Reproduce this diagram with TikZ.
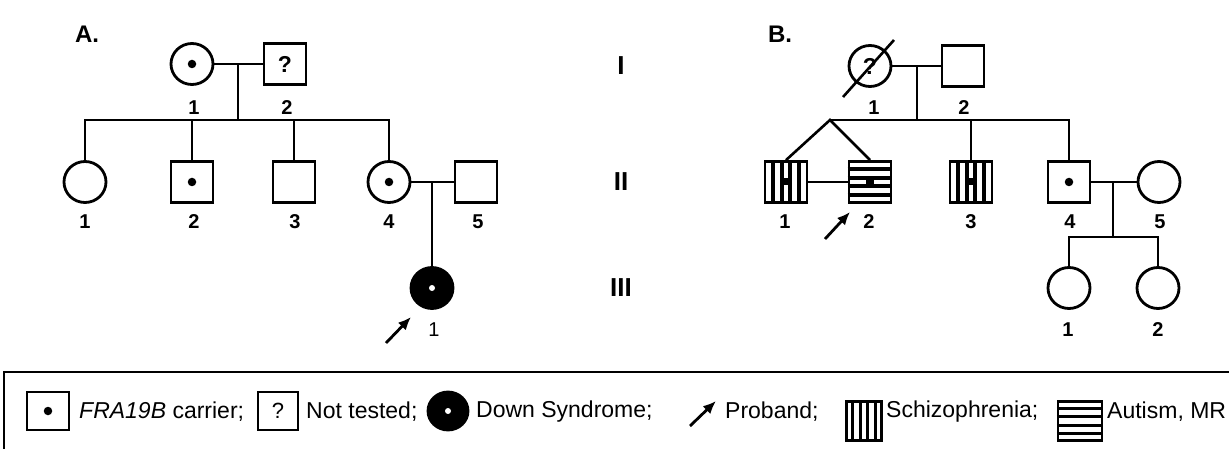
\documentclass[tikz,border=0pt]{standalone}
\usepackage{fontspec}
\setmainfont{Liberation Sans}
\usetikzlibrary{shapes.geometric,arrows.meta,calc}
\begin{document}
\begin{tikzpicture}[x=1pt,y=-1pt,
  fem/.style={ellipse,draw,line width=2.8pt,minimum width=42pt,minimum height=41pt,inner sep=0pt},
  mal/.style={rectangle,draw,line width=2.8pt,minimum width=42pt,minimum height=41pt,inner sep=0pt},
  con/.style={line width=2.6pt},
  num/.style={font=\fontsize{20}{20}\selectfont\bfseries,inner sep=0pt},
  gen/.style={font=\fontsize{26}{26}\selectfont\bfseries,inner sep=0pt},
  ttl/.style={font=\fontsize{24}{24}\selectfont\bfseries,inner sep=0pt},
  qm/.style={font=\fontsize{23}{23}\selectfont\bfseries},
  dotc/.style={circle,fill=black,minimum size=8.5pt,inner sep=0pt},
  spot/.style={circle,fill=white,minimum size=6pt,inner sep=0pt},
  proband/.style={line width=2.8pt,-{Latex[length=13pt,width=11pt]}},
  lgtext/.style={font=\fontsize{23}{23}\selectfont,anchor=west,inner sep=0pt},
  stripe/.style={line width=4pt},
]
\useasboundingbox (0,0) rectangle (1229,449);

% ---------- Panel A ----------
\node[ttl] (tA) at (87,34) {A.};
\node[fem] (a11) at (192,64) {};
\node[dotc] (a11d) at (a11) {};
\node[mal,qm] (a12) at (285,64) {?};
\node[num] (la11) at (194,108) {1};
\node[num] (la12) at (287,108) {2};

\node[fem] (a21) at (85,182) {};
\node[mal] (a22) at (192,182) {};
\node[dotc] (a22d) at (a22) {};
\node[mal] (a23) at (294,182) {};
\node[fem] (a24) at (389,182) {};
\node[dotc] (a24d) at (a24) {};
\node[mal] (a25) at (476,182) {};
\node[num] (la21) at (85,222) {1};
\node[num] (la22) at (194,222) {2};
\node[num] (la23) at (295,222) {3};
\node[num] (la24) at (389,222) {4};
\node[num] (la25) at (478,222) {5};

\node[fem,fill=black] (a31) at (432,288) {};
\node[spot] (a31d) at (a31) {};
\node[num,font=\fontsize{20}{20}\selectfont] (la31) at (434,330) {1};
\coordinate (aP1) at (386,343);
\coordinate (aP2) at (411,317);
\draw[proband] (aP1) -- (aP2);

\draw[con] (a11) -- (a12);
\coordinate (aM1) at (238,64);
\coordinate (aS1) at (238,120);
\draw[con] (aM1) -- (aS1);
\draw[con] (a21.north) |- (aS1) -| (a24.north);
\draw[con] (a22.north) -- (a22.north |- aS1);
\draw[con] (a23.north) -- (a23.north |- aS1);
\draw[con] (a24) -- (a25);
\coordinate (aM2) at (432,182);
\draw[con] (aM2) -- (a31.north);

% ---------- generations ----------
\node[gen] (g1) at (621,66) {I};
\node[gen] (g2) at (621,182) {II};
\node[gen] (g3) at (621,288) {III};

% ---------- Panel B ----------
\node[ttl] (tB) at (780,34) {B.};
\node[fem,qm] (b11) at (870,66) {?};
\draw[con] ($(b11)+(-27,31)$) -- ($(b11)+(24,-26)$);
\node[mal] (b12) at (963,66) {};
\node[num] (lb11) at (874,108) {1};
\node[num] (lb12) at (964,108) {2};

\node[mal] (b21) at (786,182) {};
\node[mal] (b22) at (870,182) {};
\node[mal] (b23) at (971,182) {};
\node[mal] (b24) at (1069,182) {};
\node[dotc] (b24d) at (b24) {};
\node[fem] (b25) at (1159,182) {};
\foreach \f in {0.2,0.4,0.6,0.8} {
  \draw[stripe] ($(b21.north west)!\f!(b21.north east)$) -- ($(b21.south west)!\f!(b21.south east)$);
  \draw[stripe] ($(b23.north west)!\f!(b23.north east)$) -- ($(b23.south west)!\f!(b23.south east)$);
  \draw[stripe] ($(b22.north west)!\f!(b22.south west)$) -- ($(b22.north east)!\f!(b22.south east)$);
}
\fill ($(b21)+(-5,-3.5)$) rectangle ($(b21)+(5,3.5)$);
\fill ($(b23)+(-5,-3.5)$) rectangle ($(b23)+(5,3.5)$);
\fill ($(b22)+(-4,-5)$) rectangle ($(b22)+(4,5)$);

\node[num] (lb21) at (785,222) {1};
\node[num] (lb22) at (869,222) {2};
\node[num] (lb23) at (971,222) {3};
\node[num] (lb24) at (1070,222) {4};
\node[num] (lb25) at (1160,222) {5};
\coordinate (bP1) at (825,239);
\coordinate (bP2) at (850,212);
\draw[proband] (bP1) -- (bP2);

\node[fem] (b31) at (1069,288) {};
\node[fem] (b32) at (1158,288) {};
\node[num] (lb31) at (1068,330) {1};
\node[num] (lb32) at (1158,330) {2};

\draw[con] (b11) -- (b12);
\coordinate (bM1) at (917,66);
\coordinate (bS1) at (917,120);
\coordinate (bT) at (830,120);
\draw[con] (bM1) -- (bS1);
\draw[con] (bT) -| (b24.north);
\draw[con] (b21.north) -- (bT) -- (b22.north);
\draw[con] (b23.north) -- (b23.north |- bS1);
\draw[con] (b21) -- (b22);
\draw[con] (b24) -- (b25);
\coordinate (bM2) at (1113,182);
\coordinate (bS2) at (1113,237);
\draw[con] (bM2) -- (bS2);
\draw[con] (b31.north) |- (bS2) -| (b32.north);

% ---------- Legend ----------
\draw[line width=2.2pt] (1229,372) -- (4,372) -- (4,449);

\node[mal,line width=2.2pt,minimum width=42pt,minimum height=38pt] (k1) at (48,411) {};
\node[dotc] (k1d) at (k1) {};
\node[lgtext] (t1) at (79,412) {\textit{FRA19B} carrier;};

\node[mal,line width=2.2pt,minimum width=40pt,minimum height=38pt,font=\fontsize{22}{22}\selectfont] (k2) at (278,411) {?};
\node[lgtext] (t2) at (306,412) {Not tested;};

\node[fem,fill=black,minimum width=40pt,minimum height=38pt] (k3) at (448,411) {};
\node[spot] (k3d) at (k3) {};
\node[lgtext] (t3) at (476,412) {Down Syndrome;};

\coordinate (kP1) at (690,426);
\coordinate (kP2) at (716,401);
\draw[proband] (kP1) -- (kP2);
\node[lgtext] (t4) at (725,412) {Proband;};

\node[mal,line width=2.2pt,minimum width=35pt,minimum height=39pt] (k5) at (864,421) {};
\foreach \f in {0.2,0.4,0.6,0.8}
  \draw[line width=3pt] ($(k5.north west)!\f!(k5.north east)$) -- ($(k5.south west)!\f!(k5.south east)$);
\node[lgtext] (t5) at (886,412) {Schizophrenia;};

\node[mal,line width=2.2pt,minimum width=44pt,minimum height=39pt] (k6) at (1080,421) {};
\foreach \f in {0.2,0.4,0.6,0.8}
  \draw[line width=3pt] ($(k6.north west)!\f!(k6.south west)$) -- ($(k6.north east)!\f!(k6.south east)$);
\node[lgtext] (t6) at (1107,412) {Autism, MR};
\end{tikzpicture}
\end{document}
